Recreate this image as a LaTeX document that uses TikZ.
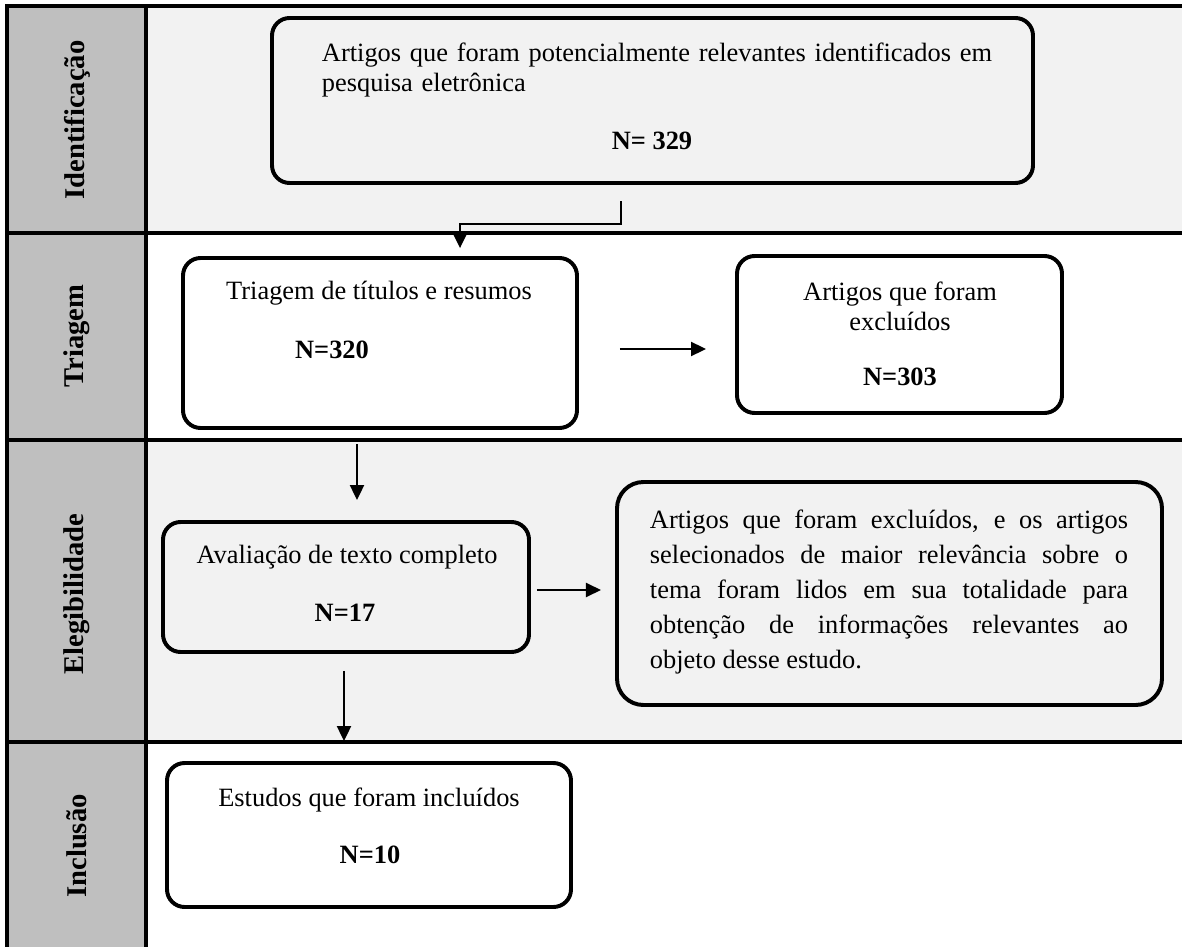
\documentclass[tikz,border=0pt]{standalone}
\usepackage{fontspec}
\setmainfont{Liberation Serif}
\usetikzlibrary{arrows.meta, fit}

\begin{document}
\begin{tikzpicture}[x=0.4545pt, y=-0.4545pt,
  stage/.style={draw, line width=1.8pt, rounded corners=8pt, inner sep=0pt},
  flow/.style={line width=0.9pt, -{Triangle[length=6.8pt, width=6.4pt]}},
  lanelabel/.style={rotate=90, inner sep=0pt, font=\fontsize{13}{15}\selectfont\bfseries},
  txt/.style={inner sep=0pt, font=\fontsize{12}{13.5}\selectfont},
  num/.style={inner sep=0pt, font=\fontsize{12}{13.5}\selectfont\bfseries}]

\useasboundingbox (0,0) rectangle (1182,947);

% Lanes
\fill[black!25] (7,6) rectangle (146,947);
\fill[black!5] (146,6) rectangle (1182,233);
\fill[black!5] (146,440) rectangle (1182,742);
\draw[line width=1.4pt] (7,947) -- (7,6) -- (1182,6);
\draw[line width=1.4pt] (146,6) -- (146,947);
\draw[line width=1.4pt] (7,233) -- (1182,233);
\draw[line width=1.4pt] (7,440) -- (1182,440);
\draw[line width=1.4pt] (7,742) -- (1182,742);

% Lane labels
\node[lanelabel] (lident) at (77,120) {Identificação};
\node[lanelabel] (ltriag) at (77,336) {Triagem};
\node[lanelabel] (leleg) at (77,594) {Elegibilidade};
\node[lanelabel] (lincl) at (77,846) {Inclusão};

% Boxes
\node[stage, fit={(272,18) (1033,183)}] (ident) {};
\node[stage, fit={(183,258) (577,428)}] (triagem) {};
\node[stage, fit={(737,256) (1062,413)}] (excl) {};
\node[stage, fit={(163,522) (529,652)}] (aval) {};
\node[stage, rounded corners=12pt, fit={(617,482) (1162,705)}] (exclfull) {};
\node[stage, fit={(167,763) (571,907)}] (estudos) {};

% Box texts
\node[txt, text width=310pt, align=left] (tident) at (663,70)
  {Artigos que foram potencialmente relevantes identificados em\\pesquisa eletrônica};
\node[num] (nident) at (652,141) {N= 329};
\node[txt] (ttriag) at (379,293) {Triagem de títulos e resumos};
\node[num] (ntriag) at (332,350) {N=320};
\node[txt, align=center] (texcl) at (900,306) {Artigos que foram\\excluídos};
\node[num] (nexcl) at (900,377) {N=303};
\node[txt] (taval) at (347,557) {Avaliação de texto completo};
\node[num] (naval) at (345,613) {N=17};
\node[txt, text width=217.3pt, align=justify, font=\fontsize{12}{16}\selectfont] (texclfull) at (889,592)
  {Artigos que foram excluídos, e os artigos\linebreak selecionados de maior relevância sobre o\linebreak tema foram lidos em sua totalidade para\linebreak obtenção de informações relevantes ao\linebreak objeto desse estudo.};
\node[txt] (testudos) at (369,800) {Estudos que foram incluídos};
\node[num] (nestudos) at (370,855) {N=10};

% Arrows
\coordinate (drop) at (621,224);
\coordinate (elbow) at (460,224);
\coordinate (row2) at (0,349);
\coordinate (col2) at (357,0);
\coordinate (row3) at (0,590);
\coordinate (col3) at (344,0);
\draw[flow, shorten <=7.3pt, shorten >=3.6pt] (ident.south -| drop) -- (drop) -- (elbow) -- (triagem.north -| elbow);
\draw[flow, shorten <=18.6pt, shorten >=13.2pt] (triagem.east |- row2) -- (excl.west |- row2);
\draw[flow, shorten <=6.4pt, shorten >=9.1pt] (triagem.south -| col2) -- (aval.north -| col2);
\draw[flow, shorten <=2.7pt, shorten >=6.4pt] (aval.east |- row3) -- (exclfull.west |- row3);
\draw[flow, shorten <=7.7pt, shorten >=9.1pt] (aval.south -| col3) -- (estudos.north -| col3);

\end{tikzpicture}
\end{document}
